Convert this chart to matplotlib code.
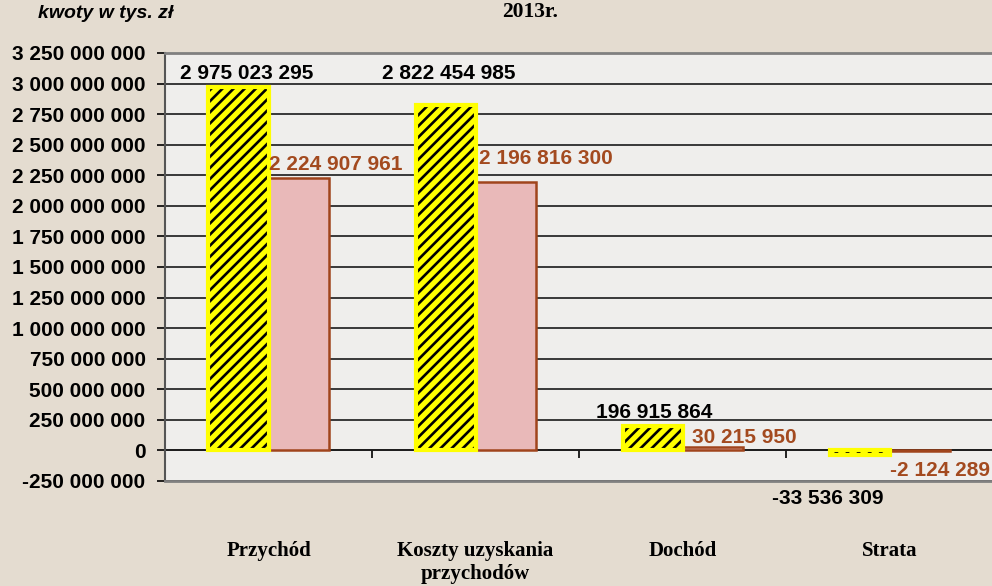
import matplotlib
matplotlib.use('Agg')
import matplotlib.pyplot as plt
import numpy as np

plt.rcParams['font.family'] = ['Liberation Sans', 'DejaVu Sans']
plt.rcParams['hatch.linewidth'] = 1.9

# dane
kategorie = ['Przychód', 'Koszty uzyskania\nprzychodów', 'Dochód', 'Strata']
seria_1 = [2975023295, 2822454985, 196915864, -33536309]
seria_2 = [2224907961, 2196816300, 30215950, -2124289]
y_ticks = np.arange(-250000000, 3250000001, 250000000)

# przesunięcia etykiet (piksele)
off_1 = [(8, 13), (3, 32), (2, 14), (-32, -44)]
off_2 = [(37, 14), (40, 23), (32, 9), (20, -20)]

zolty = '#ffff00'
rozowy = '#e9b9b9'
braz = '#a0441c'
braz_txt = '#a34a1f'


def fmt(v):
    return f'{v:,}'.replace(',', ' ')


fig = plt.figure(figsize=(9.92, 5.86), dpi=100, facecolor='#e4dcd0')
ax = fig.add_axes([165 / 992, 1 - 481 / 586, 0.835, (481 - 53) / 586])
ax.set_facecolor('#efeeec')

x = np.arange(len(kategorie))
w = 0.29

# słupki z kreskowaniem (kreski czarne, obramowanie żółte)
ax.bar(x - w / 2, seria_1, w, color=zolty, edgecolor='black', linewidth=0,
       hatch='///', zorder=3)
ax.bar(x - w / 2, seria_1, w, fill=False, edgecolor=zolty, linewidth=3, zorder=4)
ax.bar(x + w / 2, seria_2, w, color=rozowy, edgecolor=braz,
       linewidth=1.8, zorder=3)

for i in range(len(kategorie)):
    ax.annotate(fmt(seria_1[i]), (x[i] - w / 2, seria_1[i]), xytext=off_1[i],
                textcoords='offset pixels', ha='center', va='center',
                fontsize=15, fontweight='bold', color='black',
                annotation_clip=False, zorder=6)
    ax.annotate(fmt(seria_2[i]), (x[i] + w / 2, seria_2[i]), xytext=off_2[i],
                textcoords='offset pixels', ha='center', va='center',
                fontsize=15, fontweight='bold', color=braz_txt,
                annotation_clip=False, zorder=6)

ax.set_ylim(y_ticks[0], y_ticks[-1])
ax.set_xlim(-0.5, 3.5)
ax.set_yticks(y_ticks, [fmt(v) for v in y_ticks])
ax.set_xticks(x, kategorie)
for lab in ax.get_yticklabels():
    lab.set_fontweight('bold')
    lab.set_fontsize(15)
for lab in ax.get_xticklabels():
    lab.set_family('Liberation Serif')
    lab.set_fontweight('bold')
    lab.set_fontsize(15)
ax.tick_params(axis='x', length=0, pad=43)
ax.tick_params(axis='y', length=6, width=1.2, pad=8, color='black')

ax.set_axisbelow(True)
ax.grid(axis='y', color='#1a1a1a', linewidth=1.2)
for s in ['top', 'bottom', 'right']:
    ax.spines[s].set_color('#808080')
    ax.spines[s].set_linewidth(2)
ax.spines['left'].set_color('#555555')
ax.spines['left'].set_linewidth(1.5)

# oś w zerze z kreskami między kategoriami
zero_pos = (0 - y_ticks[0]) / (y_ticks[-1] - y_ticks[0])
sec = ax.secondary_xaxis(zero_pos)
sec.set_xticks(x[:-1] + 0.5, [''] * (len(x) - 1))
sec.tick_params(length=6, width=1.2, color='black')
sec.spines['bottom'].set_color('#1a1a1a')
sec.spines['bottom'].set_linewidth(1.2)

fig.text(530 / 992, 1 - 12 / 586, '2013r.', ha='center', va='center',
         family='Liberation Serif', fontweight='bold', fontsize=15.5)
fig.text(106 / 992, 1 - 14 / 586, 'kwoty w tys. zł', ha='center', va='center',
         fontstyle='italic', fontweight='bold', fontsize=14)

plt.savefig('out.png', dpi=100, facecolor=fig.get_facecolor())
